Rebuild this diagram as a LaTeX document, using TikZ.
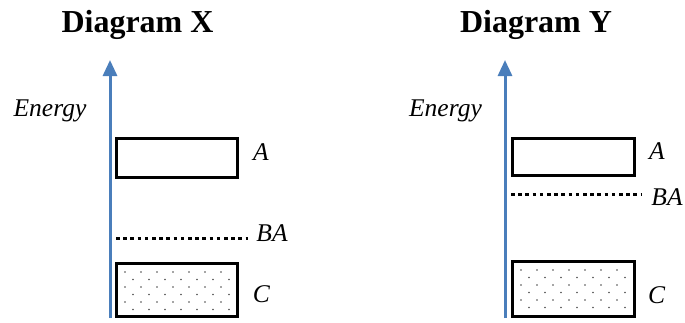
\documentclass[tikz,border=0pt]{standalone}
\usepackage{fontspec}
\setmainfont{Liberation Serif}[ItalicFont={Liberation Serif Italic},BoldFont={Liberation Serif Bold}]
\usetikzlibrary{arrows.meta}
\definecolor{axisblue}{HTML}{4A7EBB}
\tikzset{
  lvl/.style={draw=black, line width=3pt, inner sep=0pt, outer sep=0pt, fill=white},
  axis/.style={draw=axisblue, line width=3pt, -{Triangle[length=16pt,width=14pt]}},
  ba/.style={draw=black, line width=3pt, dash pattern=on 3.6pt off 3.6pt},
  lbl/.style={font=\fontsize{25.5pt}{28pt}\selectfont\itshape, anchor=base, inner sep=0pt},
  ttl/.style={font=\fontsize{32pt}{36pt}\selectfont\bfseries, anchor=base, inner sep=0pt},
  dotp/.style={fill=black!70}
}
\newcommand{\mydotgrid}[2]{%
  \foreach \r in {0,...,5}{\foreach \c in {0,...,6}{%
    \fill[dotp] ({#1+10+16*\c+8*mod(\r,2)},{#2+10+7.5*\r}) circle (0.8pt);}}}
\begin{document}
\begin{tikzpicture}[x=1pt,y=-1pt]
\useasboundingbox (0,0) rectangle (685,322);
% ---------- Diagram X ----------
\node[ttl] (tx) at (137.5,32.5) {Diagram X};
\coordinate (xb) at (110,318);
\coordinate (xt) at (110,60);
\draw[axis] (xb) -- (xt);
\node[lbl] (ex) at (50,116.7) {Energy};
\node[lvl,minimum width=121pt,minimum height=39pt] (ax) at (177,158) {};
\node[lvl,minimum width=121pt,minimum height=53pt] (cx) at (177,290) {};
\mydotgrid{115}{262}
\draw[black,line width=3pt] (cx.north west) rectangle (cx.south east);
\coordinate (bx1) at (116,238);
\coordinate (bx2) at (248,238);
\draw[ba] (bx1) -- (bx2);
\node[lbl] (la) at (261,160) {A};
\node[lbl] (lba) at (272,241.7) {BA};
\node[lbl] (lc) at (261.5,302.5) {C};
% ---------- Diagram Y ----------
\node[ttl] (ty) at (536,32.5) {Diagram Y};
\coordinate (yb) at (505,318);
\coordinate (yt) at (505,60);
\draw[axis] (yb) -- (yt);
\node[lbl] (ey) at (445.5,116.7) {Energy};
\node[lvl,minimum width=122pt,minimum height=37pt] (ay) at (573.5,157) {};
\node[lvl,minimum width=122pt,minimum height=55pt] (cy) at (573.5,289) {};
\mydotgrid{511}{260}
\draw[black,line width=3pt] (cy.north west) rectangle (cy.south east);
\coordinate (by1) at (511,194);
\coordinate (by2) at (642,194);
\draw[ba] (by1) -- (by2);
\node[lbl] (ya) at (657,159) {A};
\node[lbl] (yba) at (667,205) {BA};
\node[lbl] (yc) at (656.5,303) {C};
\end{tikzpicture}
\end{document}
